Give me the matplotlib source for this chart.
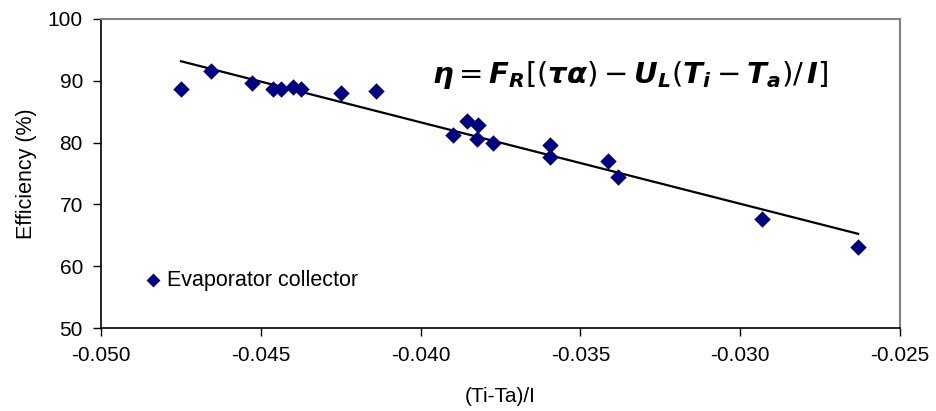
import numpy as np
import matplotlib
matplotlib.use("Agg")
import matplotlib.pyplot as plt

plt.rcParams['font.family'] = ['Liberation Sans', 'DejaVu Sans']

x_vals = [-0.0475, -0.04656, -0.04528, -0.04463, -0.04438, -0.0440, -0.04375,
          -0.0425, -0.04138, -0.0390, -0.03856, -0.03819, -0.03822, -0.03775,
          -0.03594, -0.03594, -0.03413, -0.03381, -0.02931, -0.02631]
eff_vals = [88.7, 91.6, 89.6, 88.7, 88.7, 89.0, 88.7, 88.0, 88.3, 81.2,
            83.5, 82.8, 80.6, 79.9, 79.6, 77.7, 77.0, 74.4, 67.6, 63.1]
x_ticks = [-0.050, -0.045, -0.040, -0.035, -0.030, -0.025]
x_tick_labels = ["-0.050", "-0.045", "-0.040", "-0.035", "-0.030", "-0.025"]
y_ticks = [50, 60, 70, 80, 90, 100]
series_label = "Evaporator collector"

x = np.array(x_vals)
y = np.array(eff_vals)
slope, intercept = np.polyfit(x, y, 1)
xf = np.array([x.min(), x.max()])

fig = plt.figure(figsize=(9.37, 4.11), dpi=100)
ax = fig.add_axes([0.1078, 0.2019, 0.8527, 0.7519])

ax.plot(xf, slope * xf + intercept, color='black', lw=1.6, zorder=2)
ax.scatter(x, y, marker='D', s=70, color='#000080', zorder=3, linewidths=0)

ax.set_xlim(-0.050, -0.025)
ax.set_ylim(50, 100)
ax.set_xticks(x_ticks)
ax.set_xticklabels(x_tick_labels)
ax.set_yticks(y_ticks)
ax.tick_params(direction='out', length=6, width=1, labelsize=15, pad=7)

for s in ['left', 'bottom']:
    ax.spines[s].set_color('black')
    ax.spines[s].set_linewidth(1.2)
for s in ['top', 'right']:
    ax.spines[s].set_color('#808080')
    ax.spines[s].set_linewidth(1.5)

ax.set_xlabel("(Ti-Ta)/I", fontsize=15, labelpad=16)
ax.set_ylabel("Efficiency (%)", fontsize=15.5, labelpad=8)

# legend
ax.scatter([0.0655], [0.155], marker='D', s=50, color='#000080',
           transform=ax.transAxes, clip_on=False, linewidths=0)
ax.text(0.083, 0.155, series_label, transform=ax.transAxes, fontsize=15.5,
        va='center', ha='left')

eq = (r"$\boldsymbol{\eta} = \mathbfit{F}_{\mathbfit{R}}\left[(\boldsymbol{\tau}\boldsymbol{\alpha}) - "
      r"\mathbfit{U}_{\mathbfit{L}}(\mathbfit{T}_{\mathbfit{i}} - "
      r"\mathbfit{T}_{\mathbfit{a}})/\,\mathbfit{I}\right]$")
ax.text(0.662, 0.82, eq, transform=ax.transAxes, fontsize=21,
        ha='center', va='center')

fig.savefig("out.png", dpi=100)
